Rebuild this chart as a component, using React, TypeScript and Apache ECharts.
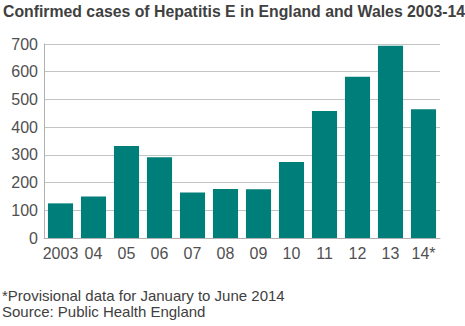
import React, { useEffect, useRef } from "react";
import * as echarts from "echarts";

const categories = ["2003", "04", "05", "06", "07", "08", "09", "10", "11", "12", "13", "14*"];
const cases = [125, 150, 332, 291, 164, 177, 176, 274, 458, 582, 694, 465];
const yTicks = { min: 0, max: 700, interval: 100 };
const titleText = "Confirmed cases of Hepatitis E in England and Wales 2003-14";
const footnote1 = "*Provisional data for January to June 2014";
const footnote2 = "Source: Public Health England";

export default function App() {
  const ref = useRef<HTMLDivElement>(null);
  useEffect(() => {
    if (!ref.current) return;
    const chart = echarts.init(ref.current, null, { renderer: "svg" });
    const font = "Liberation Sans, Arial, sans-serif";
    chart.setOption({
      animation: false,
      backgroundColor: "#ffffff",
      textStyle: { fontFamily: font },
      title: {
        text: titleText,
        left: 3,
        top: 3,
        padding: 0,
        textStyle: { fontSize: 15.8, fontWeight: "bold", color: "#404040", fontFamily: font },
      },
      graphic: [
        {
          type: "text",
          left: 2,
          top: 288,
          style: { text: footnote1, fontSize: 15, fill: "#404040", fontFamily: font },
        },
        {
          type: "text",
          left: 2,
          top: 304,
          style: { text: footnote2, fontSize: 15, fill: "#404040", fontFamily: font },
        },
      ],
      grid: { left: 44, right: 25, top: 44, bottom: 88, containLabel: false },
      xAxis: {
        type: "category",
        data: categories,
        axisLine: { lineStyle: { color: "#b0b0b0", width: 1 } },
        axisTick: { alignWithLabel: true, length: 5, lineStyle: { color: "#c0c0c0" } },
        axisLabel: { color: "#505050", fontSize: 16, margin: 7, interval: 0 },
      },
      yAxis: {
        type: "value",
        min: yTicks.min,
        max: yTicks.max,
        interval: yTicks.interval,
        axisLine: { show: true, lineStyle: { color: "#b0b0b0" } },
        axisTick: { show: false },
        splitLine: { lineStyle: { color: "#c4c4c4" } },
        axisLabel: { color: "#505050", fontSize: 16, margin: 6 },
      },
      series: [
        {
          type: "bar",
          data: cases,
          barCategoryGap: "24%",
          itemStyle: { color: "#007f7a" },
        },
      ],
    });
    return () => chart.dispose();
  }, []);
  return <div ref={ref} style={{ position: "absolute", left: 0, top: 0, width: 465, height: 326 }} />;
}
